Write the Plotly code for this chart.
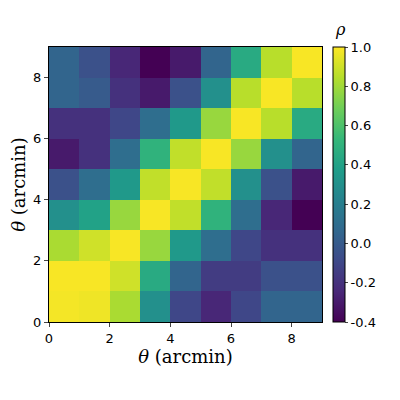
import plotly.graph_objects as go

theta = [0.5, 1.5, 2.5, 3.5, 4.5, 5.5, 6.5, 7.5, 8.5]
rho = [
    [0.98, 0.97, 0.82, 0.30, -0.10, -0.25, -0.10, 0.05, 0.05],
    [0.99, 0.99, 0.90, 0.45, 0.05, -0.15, -0.15, -0.05, -0.05],
    [0.82, 0.90, 0.99, 0.78, 0.35, 0.10, -0.10, -0.20, -0.20],
    [0.30, 0.40, 0.78, 0.99, 0.87, 0.50, 0.10, -0.25, -0.40],
    [-0.05, 0.10, 0.35, 0.87, 0.99, 0.87, 0.30, -0.05, -0.30],
    [-0.30, -0.20, 0.10, 0.50, 0.87, 0.99, 0.78, 0.30, 0.05],
    [-0.20, -0.20, -0.10, 0.10, 0.35, 0.78, 0.99, 0.85, 0.45],
    [0.05, 0.00, -0.20, -0.30, -0.05, 0.30, 0.85, 0.99, 0.85],
    [0.05, -0.05, -0.25, -0.40, -0.30, 0.05, 0.45, 0.85, 0.99],
]
ticks = [0, 2, 4, 6, 8]
cticks = [-0.4, -0.2, 0.0, 0.2, 0.4, 0.6, 0.8, 1.0]

font = dict(family="DejaVu Serif", color="black")
fig = go.Figure(go.Heatmap(
    x=theta, y=theta, z=rho, colorscale="Viridis", zmin=-0.4, zmax=1.0,
    colorbar=dict(
        thickness=12, len=1, lenmode="fraction", y=0, yanchor="bottom",
        tickvals=cticks, ticktext=[f"{v:.1f}" for v in cticks],
        x=1.04, xpad=0, ypad=0, outlinewidth=1, outlinecolor="black",
        ticks="outside", ticklen=3, tickfont=dict(size=13, family="DejaVu Sans"),
    ),
))
axis = dict(range=[0, 9], tickvals=ticks, ticks="outside", ticklen=4,
            showline=True, linecolor="black", mirror=True, showgrid=False,
            zeroline=False, tickfont=dict(size=13, family="DejaVu Sans"),
            automargin=False)
fig.update_xaxes(**axis, title=dict(text="<i>θ</i> (arcmin)", font=dict(size=18), standoff=4))
fig.update_yaxes(**axis, title=dict(text="<i>θ</i> (arcmin)", font=dict(size=18), standoff=4))
fig.add_annotation(text="<i>ρ</i>", xref="paper", yref="paper", x=1.04, y=1.02,
                   xanchor="left", yanchor="bottom", showarrow=False,
                   font=dict(size=16, family="DejaVu Serif"))
fig.update_layout(width=400, height=400, font=font, plot_bgcolor="white", paper_bgcolor="white",
                  margin=dict(l=41, r=86, t=39, b=86, autoexpand=False))
fig.write_html("out.html")
